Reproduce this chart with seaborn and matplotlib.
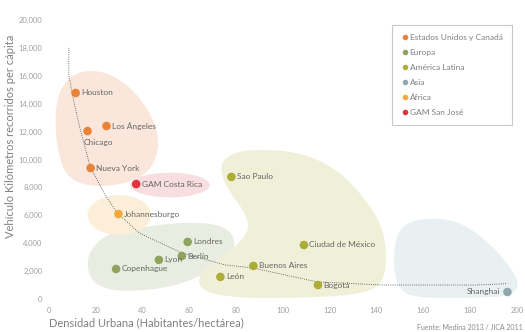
import numpy as np
import pandas as pd
import matplotlib
matplotlib.use("Agg")
import matplotlib.pyplot as plt
import seaborn as sns
from matplotlib.lines import Line2D
from matplotlib.ticker import FuncFormatter

# ---------------- data ----------------
cities = ["Houston", "Los Ángeles", "Chicago", "Nueva York", "GAM Costa Rica",
          "Johannesburgo", "Londres", "Berlín", "Lyon", "Copenhague",
          "Sao Paulo", "Ciudad de México", "Buenos Aires", "León", "Bogotá",
          "Shanghai"]
density = [11.4, 24.6, 16.5, 17.8, 37.3, 29.7, 59.3, 56.8, 47.0, 28.7,
           78.0, 109.0, 87.4, 73.3, 115.0, 196.0]
vkt = [14770, 12400, 12040, 9390, 8240, 6090, 4090, 3080, 2800, 2150,
       8750, 3870, 2370, 1580, 1000, 500]
regions = ["Estados Unidos y Canadá"] * 4 + ["GAM San José", "África"] + \
          ["Europa"] * 4 + ["América Latina"] * 5 + ["Asia"]

legend_order = ["Estados Unidos y Canadá", "Europa", "América Latina",
                "Asia", "África", "GAM San José"]

# trend curve
trend_x = [8.5, 8.5, 8.9, 10.2, 13.1, 17.8, 24.6, 29.2, 38.6, 56.8, 75.4,
           87.3, 114.8, 143.0, 182.6, 196.0]
trend_y = [18000, 16000, 15700, 14480, 12330, 9390, 7310, 6165, 4730, 3300,
           2440, 2220, 1220, 1000, 1000, 1100]

x_ticks = list(range(0, 201, 20))
y_ticks = list(range(0, 20001, 2000))

# ---------------- styling ----------------
palette = {
    "Estados Unidos y Canadá": "#E8833A",
    "Europa": "#8FA35C",
    "América Latina": "#ADAC36",
    "Asia": "#8FA8AE",
    "África": "#F2A935",
    "GAM San José": "#E0333D",
}
blob_colors = {
    "Estados Unidos y Canadá": "#FAE6DA",
    "Europa": "#E9EDE1",
    "América Latina": "#F0EFD8",
    "Asia": "#E9F0F1",
    "África": "#FCEED9",
    "GAM San José": "#F8DDE1",
}

# background shape outlines (decorative, data coordinates)
blobs = {
    "Estados Unidos y Canadá": [(5.5, 15340), (13.1, 16400), (25.8, 16270), (38.6, 14620),
                                (47.0, 12110), (46.2, 9960), (38.6, 8530), (21.6, 7960),
                                (8.1, 8530), (3.4, 10680), (2.5, 13550)],
    "Europa": [(17.4, 3510), (25.8, 4800), (42.8, 5230), (59.7, 5520), (74.6, 5300),
               (80.1, 4230), (77.5, 2940), (66.1, 1720), (51.3, 790), (30.1, 500),
               (19.5, 1000), (16.1, 2220)],
    "América Latina": [(74.6, 10110), (83.1, 10680), (97.9, 10680), (110.6, 10320),
                       (123.3, 9250), (133.9, 7450), (142.4, 5300), (144.5, 3150),
                       (142.8, 1000), (131.8, 290), (106.4, 70), (80.9, 70),
                       (66.1, 500), (63.1, 1510), (70.3, 2650), (80.9, 3870),
                       (86.0, 5090), (83.1, 6380), (76.7, 7810), (73.3, 9100)],
    "Asia": [(148.7, 4800), (155.1, 5660), (167.8, 5810), (178.4, 5300), (189.0, 3870),
             (197.5, 2220), (201.3, 1000), (197.5, 215), (182.6, 70), (157.2, 70),
             (149.6, 645), (147.0, 2440)],
}
ellipses = {
    "GAM San José": (51.7, 8170, 17.0, 880),
    "África": (30.1, 6020, 13.6, 1430),
}


def chaikin(pts, n=4):
    p = np.asarray(pts, float)
    for _ in range(n):
        q = np.roll(p, -1, axis=0)
        a = 0.75 * p + 0.25 * q
        b = 0.25 * p + 0.75 * q
        r = np.empty((2 * len(p), 2))
        r[0::2] = a
        r[1::2] = b
        p = r
    return p


sns.set_theme(style="white")
plt.rcParams["font.family"] = ["Lato", "DejaVu Sans"]

fig = plt.figure(figsize=(5.25, 3.32), dpi=100)
ax = fig.add_axes([0.0888, 0.0873, 0.9112, 0.8675])

for key, pts in blobs.items():
    sm = chaikin(pts, 4)
    ax.fill(sm[:, 0], sm[:, 1], color=blob_colors[key], lw=0, zorder=0)
t = np.linspace(0, 2 * np.pi, 200)
for key, (cx, cy, rx, ry) in ellipses.items():
    ax.fill(cx + rx * np.cos(t), cy + ry * np.sin(t), color=blob_colors[key], lw=0, zorder=0)

ax.plot(trend_x, trend_y, color="#444444", lw=0.6, ls=(0, (1.0, 1.6)), zorder=1)

df = pd.DataFrame({"city": cities, "density": density, "vkt": vkt, "region": regions})
sns.scatterplot(data=df, x="density", y="vkt", hue="region", hue_order=legend_order,
                palette=palette, s=38, linewidth=0, ax=ax, legend=False, zorder=3)

label_style = dict(fontsize=6, color="#666666", va="center", zorder=4)
for c, x, y in zip(cities, density, vkt):
    if c == "Chicago":
        ax.annotate(c, (x, y), xytext=(-3, -8), textcoords="offset points",
                    ha="left", **label_style)
    elif c == "Shanghai":
        ax.annotate(c, (x, y), xytext=(-5, 0), textcoords="offset points",
                    ha="right", **label_style)
    else:
        ax.annotate(c, (x, y), xytext=(4, 0), textcoords="offset points",
                    ha="left", **label_style)

ax.set_xlim(-1, 203.5)
ax.set_ylim(-290, 20360)
ax.set_xticks(x_ticks)
ax.set_yticks(y_ticks)
ax.yaxis.set_major_formatter(FuncFormatter(lambda v, p: f"{int(v):,}"))
ax.tick_params(axis="both", labelsize=5.5, labelcolor="#a0a0a0", length=0, pad=3)
for s in ax.spines.values():
    s.set_visible(False)
ax.set_xlabel("")
ax.set_ylabel("")

fig.text(0.093, 0.012, "Densidad Urbana (Habitantes/hectárea)", fontsize=8,
         color="#808080", ha="left", va="bottom")
fig.text(0.02, 0.59, "Vehículo Kilómetros recorridos per cápita", fontsize=8,
         color="#808080", rotation=90, ha="center", va="center")
fig.text(0.995, 0.003, "Fuente: Medina 2013 / JICA 2011", fontsize=5,
         color="#8a8a8a", ha="right", va="bottom")

handles = [Line2D([0], [0], marker="o", ls="", markersize=4,
                  markerfacecolor=palette[k], markeredgewidth=0) for k in legend_order]
leg = ax.legend(handles, legend_order, loc="upper left",
                bbox_to_anchor=(0.722, 0.965), fontsize=6, frameon=True,
                fancybox=False, handletextpad=0.2, labelspacing=0.95,
                borderpad=1.1, handlelength=0.8, borderaxespad=0)
leg.get_frame().set_edgecolor("#bbbbbb")
leg.get_frame().set_linewidth(0.8)
for txt in leg.get_texts():
    txt.set_color("#808080")

fig.savefig("out.png", dpi=100)
